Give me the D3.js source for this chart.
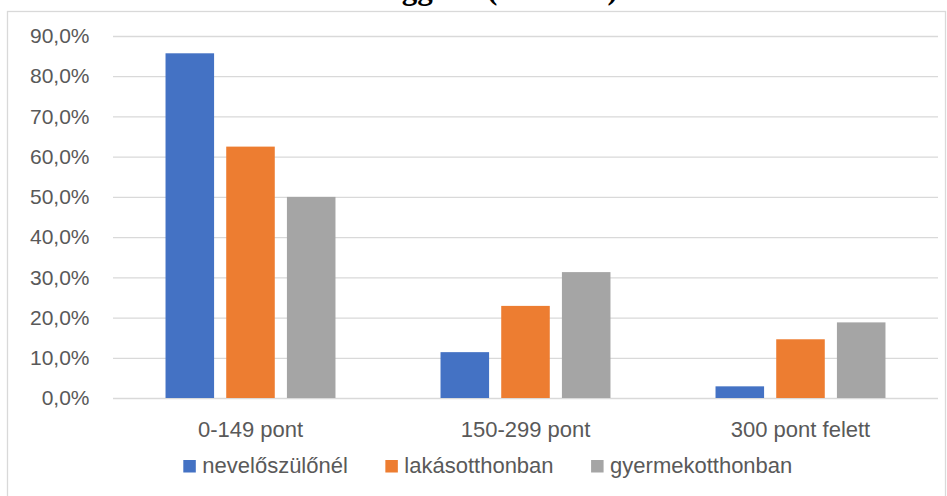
<!DOCTYPE html>
<html>
<head>
<meta charset="utf-8">
<script src="https://cdn.jsdelivr.net/npm/d3@7"></script>
<style>
  html, body { margin: 0; padding: 0; background: #ffffff; }
  svg { display: block; }
</style>
</head>
<body>
<svg id="chart" width="947" height="496"></svg>
<script>
// Distribution of point scores by type of placement
const categories = ["0-149 pont", "150-299 pont", "300 pont felett"];
const seriesNames = ["nevelőszülőnél", "lakásotthonban", "gyermekotthonban"];
const neveloszulonel = [85.7, 11.4, 2.9];
const lakasotthonban = [62.5, 22.9, 14.6];
const gyermekotthonban = [50.0, 31.3, 18.8];
const yTicks = [0, 10, 20, 30, 40, 50, 60, 70, 80, 90];
const titleText = "formától függően (százalék)";

const seriesValues = [neveloszulonel, lakasotthonban, gyermekotthonban];
const colors = ["#4472C4", "#ED7D31", "#A5A5A5"];
const textColor = "#595959";
const gridColor = "#d9d9d9";
const font = "'Liberation Sans', Arial, sans-serif";

const svg = d3.select("#chart");

// chart area frame
svg.append("rect")
  .attr("x", 7.5).attr("y", 11.5)
  .attr("width", 938).attr("height", 500)
  .attr("fill", "#ffffff")
  .attr("stroke", gridColor)
  .attr("stroke-width", 1.3);

// title (only its lower part falls inside the page)
svg.append("text")
  .attr("x", 251).attr("y", -1)
  .attr("font-family", "'Liberation Serif', 'Times New Roman', serif")
  .attr("font-weight", "bold")
  .attr("font-size", 31)
  .attr("fill", "#000000")
  .text(titleText);

const plot = { left: 113, right: 938, top: 36, bottom: 398 };

const y = d3.scaleLinear().domain([0, 90]).range([plot.bottom, plot.top]);
const x0 = d3.scaleBand().domain(categories)
  .range([plot.left, plot.right])
  .paddingInner(0.382).paddingOuter(0.191);
const x1 = d3.scaleBand().domain(seriesNames)
  .range([0, x0.bandwidth()])
  .paddingInner(0.2);

const fmt = d => d.toFixed(1).replace(".", ",") + "%";

// y axis with gridlines
const yAxis = svg.append("g")
  .attr("transform", `translate(${plot.left},0)`)
  .call(d3.axisLeft(y).tickValues(yTicks).tickFormat(fmt)
    .tickSize(-(plot.right - plot.left)).tickPadding(23.5));
yAxis.select(".domain").remove();
yAxis.selectAll(".tick line")
  .attr("stroke", gridColor).attr("stroke-width", 1.3);
yAxis.selectAll(".tick text")
  .attr("fill", textColor)
  .attr("font-family", font)
  .attr("font-size", 21);

// bars
const groups = svg.append("g").selectAll("g")
  .data(categories)
  .join("g")
  .attr("transform", d => `translate(${x0(d)},0)`);

groups.selectAll("rect")
  .data((c, i) => seriesNames.map((s, j) => ({ s, j, v: seriesValues[j][i] })))
  .join("rect")
  .attr("x", d => x1(d.s))
  .attr("y", d => y(d.v))
  .attr("width", x1.bandwidth())
  .attr("height", d => y(0) - y(d.v))
  .attr("fill", d => colors[d.j]);

// category axis
const xAxis = svg.append("g")
  .attr("transform", `translate(0,${plot.bottom})`)
  .call(d3.axisBottom(x0).tickSize(0).tickPadding(23.5));
xAxis.select(".domain").remove();
xAxis.selectAll(".tick text")
  .attr("fill", textColor)
  .attr("font-family", font)
  .attr("font-size", 22);

// legend
const legend = svg.append("g");
let lx = 183.3;
seriesNames.forEach((name, i) => {
  legend.append("rect")
    .attr("x", lx).attr("y", 460)
    .attr("width", 12.5).attr("height", 12.5)
    .attr("fill", colors[i]);
  const t = legend.append("text")
    .attr("x", lx + 19).attr("y", 472.5)
    .attr("fill", textColor)
    .attr("font-family", font)
    .attr("font-size", 22)
    .text(name);
  lx += 19 + t.node().getComputedTextLength() + 37.5;
});
</script>
</body>
</html>
